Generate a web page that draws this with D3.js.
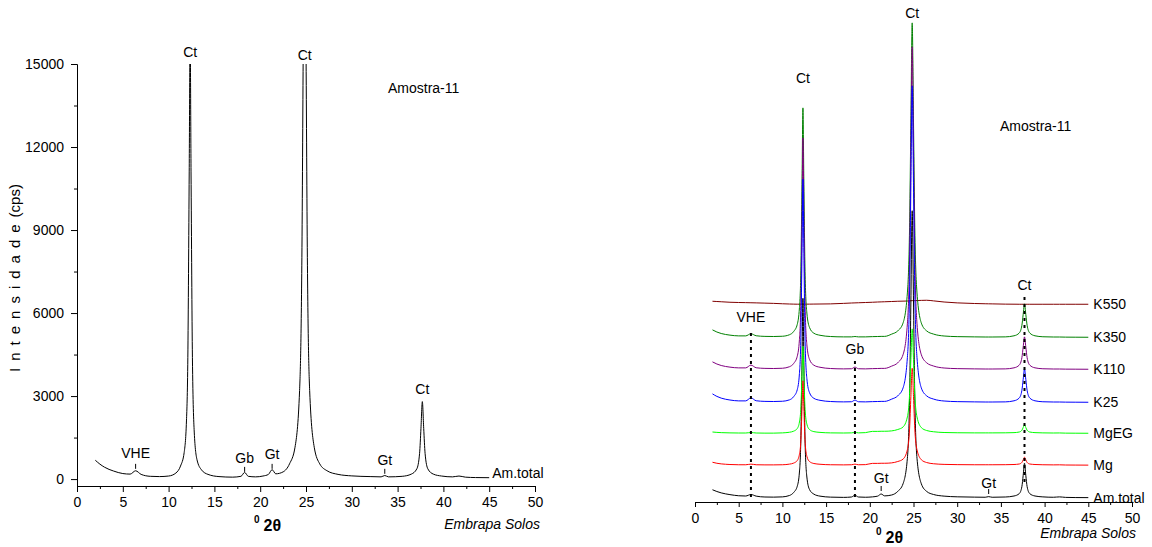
<!DOCTYPE html>
<html>
<head>
<meta charset="utf-8">
<script src="https://cdn.jsdelivr.net/npm/d3@7"></script>
<style>
  body { margin: 0; background: #fff; }
  svg text { font-family: "Liberation Sans", Arial, sans-serif; }
</style>
</head>
<body>
<svg id="chart" width="1152" height="547"></svg>
<script>
// 2-theta grid shared by every diffractogram (degrees)
var twoTheta = [2, 2.5, 3, 4, 5, 5.8, 6.4, 7, 8, 9, 10, 10.8, 11.3, 11.7, 11.95, 12.1, 12.25, 12.35, 12.45, 12.6,
  12.8, 13.1, 13.6, 14.3, 15.5, 17, 17.9, 18.3, 18.7, 19.5, 20.3, 20.9, 21.3, 21.7, 22.5, 23.2, 23.8, 24.3, 24.55, 24.7,
  24.85, 25.0, 25.15, 25.4, 25.9, 26.5, 27.3, 28.5, 30, 32, 33.2, 33.6, 34, 35.5, 36.5, 37.1, 37.4, 37.55, 37.7, 37.85,
  38.0, 38.3, 38.9, 39.8, 41, 41.7, 42.4, 43.5, 45];

// intensities (cps)
var amTotal = [680, 540, 430, 290, 200, 180, 300, 170, 100, 90, 110, 220, 470, 960, 2100, 4400, 11100, 16000, 11100, 4400,
  1700, 700, 330, 170, 90, 70, 100, 240, 100, 80, 110, 170, 340, 190, 260, 550, 1150, 3200, 8000, 15700,
  23000, 15700, 8000, 3200, 1150, 550, 300, 170, 115, 90, 80, 130, 80, 100, 180, 370, 930, 1830, 2800, 1830,
  930, 370, 180, 110, 80, 110, 70, 55, 50];

var mg = [280, 200, 150, 100, 80, 80, 130, 80, 70, 70, 80, 130, 216, 420, 920, 1880, 4720, 6800, 4720, 1880,
  760, 340, 180, 120, 80, 70, 80, 130, 80, 90, 190, 190, 200, 200, 230, 340, 530, 1280, 2930, 5540,
  7800, 5540, 2930, 1280, 480, 257, 160, 110, 90, 80, 80, 80, 80, 85, 100, 140, 265, 465, 680, 465,
  265, 140, 100, 80, 70, 75, 60, 55, 50];

var mgEG = [150, 120, 100, 80, 70, 70, 110, 70, 60, 60, 80, 130, 220, 430, 950, 1930, 4860, 7000, 4860, 1930,
  780, 350, 180, 120, 80, 70, 80, 120, 80, 100, 200, 200, 210, 210, 240, 350, 550, 1360, 3140, 5950,
  8400, 5950, 3140, 1360, 500, 270, 170, 110, 90, 80, 80, 80, 80, 85, 100, 150, 290, 510, 760, 510,
  290, 150, 100, 80, 70, 75, 60, 55, 50];

var k25 = [720, 520, 380, 230, 160, 160, 400, 170, 120, 110, 130, 240, 508, 1054, 2360, 4885, 12430, 17900, 12430, 4885,
  1940, 820, 366, 205, 110, 80, 90, 220, 90, 80, 100, 110, 120, 120, 300, 565, 1185, 3620, 8870, 17370,
  25360, 17370, 8870, 3620, 1185, 565, 303, 150, 100, 80, 70, 70, 70, 80, 166, 393, 1003, 1880, 2720, 1880,
  1003, 393, 166, 90, 70, 70, 60, 55, 50];

var k110 = [640, 470, 350, 220, 160, 160, 380, 170, 120, 110, 130, 250, 521, 1087, 2440, 5060, 12890, 18560, 12890, 5060,
  2006, 844, 375, 209, 110, 80, 90, 220, 90, 80, 100, 110, 120, 120, 300, 571, 1206, 3684, 9035, 17700,
  25840, 17700, 9035, 3684, 1206, 571, 307, 150, 100, 80, 70, 70, 70, 80, 163, 383, 975, 1827, 2640, 1827,
  975, 383, 163, 90, 70, 70, 60, 55, 50];

var k350 = [640, 470, 350, 220, 160, 160, 330, 170, 120, 110, 130, 250, 518, 1079, 2422, 5018, 12780, 18400, 12780, 5018,
  1990, 838, 373, 208, 110, 80, 80, 110, 80, 80, 100, 110, 120, 120, 300, 560, 1179, 3596, 8810, 17260,
  25200, 17260, 8810, 3596, 1179, 560, 302, 150, 100, 80, 70, 70, 70, 80, 166, 393, 1003, 1880, 2720, 1880,
  1003, 393, 166, 90, 70, 70, 60, 55, 50];

var k550 = [290, 270, 250, 210, 190, 180, 170, 160, 140, 120, 90, 70, 60, 55, 55, 55, 55, 55, 55, 55,
  60, 60, 65, 70, 80, 120, 150, 160, 170, 190, 210, 230, 240, 250, 270, 290, 300, 310, 320, 330,
  340, 340, 340, 350, 360, 370, 320, 230, 160, 110, 90, 85, 80, 60, 55, 50, 50, 50, 55, 50,
  50, 50, 50, 50, 50, 50, 50, 50, 50];

// stacked chart: names in drawing order, vertical offsets in cps
var stackNames = ["K550", "K350", "K110", "K25", "Am.total", "MgEG", "Mg"];
var stackOffsets = [15470, 12830, 10270, 7630, 0, 5150, 2600];
var stackValues = [k550, k350, k110, k25, amTotal, mgEG, mg];

var xTicks = [0, 5, 10, 15, 20, 25, 30, 35, 40, 45, 50];
var xMinor = [2.5, 7.5, 12.5, 17.5, 22.5, 27.5, 32.5, 37.5, 42.5, 47.5];
var yTicks = [0, 3000, 6000, 9000, 12000, 15000];
var yMinor = [1500, 4500, 7500, 10500, 13500];

// peak markers, positions in data units (2theta, cps)
var leftPeaks = [
  { t: "Ct", x: 12.35, y: 15250 },
  { t: "Ct", x: 24.85, y: 15150 },
  { t: "Ct", x: 37.7, y: 3070 },
  { t: "VHE", x: 6.4, y: 760, tick: [370, 550] },
  { t: "Gb", x: 18.3, y: 580, tick: [260, 440] },
  { t: "Gt", x: 21.3, y: 730, tick: [370, 550] },
  { t: "Gt", x: 33.6, y: 510, tick: [190, 370] }
];
var rightPeaks = [
  { t: "Ct", x: 12.35, y: 33220 },
  { t: "Ct", x: 24.85, y: 38420 },
  { t: "Ct", x: 37.7, y: 16660, dash: [1300, 16420] },
  { t: "VHE", x: 6.4, y: 14100, dash: [100, 13460] },
  { t: "Gb", x: 18.3, y: 11540, dash: [100, 11140] },
  { t: "Gt", x: 21.3, y: 1220, tick: [580, 980] },
  { t: "Gt", x: 33.6, y: 820, tick: [340, 740] }
];

var colors = { "K550": "#800000", "K350": "#008000", "K110": "#800080", "K25": "#0000ff",
  "MgEG": "#00ff00", "Mg": "#ff0000", "Am.total": "#000000" };

var svg = d3.select("#chart");
var font = "'Liberation Sans', Arial, sans-serif";

function pts(vals, off) {
  return twoTheta.map(function(t, i) { return [t, vals[i] + off]; });
}

// ---------- left chart ----------
var xL = d3.scaleLinear().domain([0, 50]).range([77, 535]);
var yL = d3.scaleLinear().domain([-250, 15000]).range([486, 64]);

svg.append("clipPath").attr("id", "clipL")
  .append("rect").attr("x", 0).attr("y", yL(15000)).attr("width", 560).attr("height", 480);

var lineL = d3.line().curve(d3.curveMonotoneX)
  .x(function(d) { return xL(d[0]); })
  .y(function(d) { return yL(d[1]); });

svg.append("path")
  .attr("clip-path", "url(#clipL)")
  .attr("d", lineL(pts(amTotal, 0)))
  .attr("fill", "none").attr("stroke", "#000").attr("stroke-width", 1);

svg.append("g").attr("transform", "translate(0," + yL(-250) + ")")
  .call(d3.axisBottom(xL).tickValues(xTicks).tickSize(6).tickPadding(5).tickSizeOuter(0));
svg.append("g").attr("transform", "translate(0," + yL(-250) + ")")
  .call(d3.axisBottom(xL).tickValues(xMinor).tickSize(3).tickFormat("").tickSizeOuter(0));
svg.append("g").attr("transform", "translate(" + xL(0) + ",0)")
  .call(d3.axisLeft(yL).tickValues(yTicks).tickFormat(d3.format("d"))
    .tickSize(6).tickPadding(7).tickSizeOuter(0));
svg.append("g").attr("transform", "translate(" + xL(0) + ",0)")
  .call(d3.axisLeft(yL).tickValues(yMinor).tickSize(3).tickFormat("").tickSizeOuter(0));

leftPeaks.forEach(function(p) {
  svg.append("text").attr("x", xL(p.x)).attr("y", yL(p.y))
    .attr("text-anchor", "middle").attr("font-size", 14).text(p.t);
  if (p.tick) {
    svg.append("line").attr("x1", xL(p.x)).attr("x2", xL(p.x))
      .attr("y1", yL(p.tick[0])).attr("y2", yL(p.tick[1])).attr("stroke", "#000");
  }
});

svg.append("text").attr("x", xL(45) + 3).attr("y", yL(50))
  .attr("font-size", 14).text("Am.total");
svg.append("text").attr("x", 388).attr("y", 93).attr("font-size", 14).text("Amostra-11");

var yt = svg.append("text").attr("transform", "translate(20,278) rotate(-90)")
  .attr("text-anchor", "middle").attr("font-size", 15);
yt.append("tspan").attr("letter-spacing", "7px").text("Intensidade");
yt.append("tspan").text("(cps)");

var xt = svg.append("text").attr("x", 254).attr("y", 531);
xt.append("tspan").attr("font-size", 10).attr("font-weight", "bold").attr("dy", -8).text("0");
xt.append("tspan").attr("font-size", 16).attr("font-weight", "bold").attr("dx", 4).attr("dy", 8).text("2θ");
svg.append("text").attr("x", 540).attr("y", 529).attr("text-anchor", "end")
  .attr("font-size", 14).attr("font-style", "italic").text("Embrapa Solos");

// ---------- right chart ----------
var xR = d3.scaleLinear().domain([0, 50]).range([695, 1132]);
var yR = d3.scaleLinear().domain([-300, 40000]).range([502, -1.75]);

var lineR = d3.line().curve(d3.curveMonotoneX)
  .x(function(d) { return xR(d[0]); })
  .y(function(d) { return yR(d[1]); });

stackNames.forEach(function(name, i) {
  svg.append("path")
    .attr("d", lineR(pts(stackValues[i], stackOffsets[i])))
    .attr("fill", "none").attr("stroke", colors[name]).attr("stroke-width", 1);
  var last = stackValues[i][stackValues[i].length - 1] + stackOffsets[i];
  svg.append("text").attr("x", xR(45) + 5).attr("y", yR(last) + 5)
    .attr("font-size", 14).text(name);
});

svg.append("g").attr("transform", "translate(0," + yR(-300) + ")")
  .call(d3.axisBottom(xR).tickValues(xTicks).tickSize(5).tickPadding(6).tickSizeOuter(0));
svg.append("g").attr("transform", "translate(0," + yR(-300) + ")")
  .call(d3.axisBottom(xR).tickValues(xMinor).tickSize(3).tickFormat("").tickSizeOuter(0));

rightPeaks.forEach(function(p) {
  svg.append("text").attr("x", xR(p.x)).attr("y", yR(p.y))
    .attr("text-anchor", "middle").attr("font-size", 14).text(p.t);
  if (p.tick) {
    svg.append("line").attr("x1", xR(p.x)).attr("x2", xR(p.x))
      .attr("y1", yR(p.tick[0])).attr("y2", yR(p.tick[1])).attr("stroke", "#000");
  }
  if (p.dash) {
    svg.append("line").attr("x1", xR(p.x)).attr("x2", xR(p.x))
      .attr("y1", yR(p.dash[0])).attr("y2", yR(p.dash[1]))
      .attr("stroke", "#000").attr("stroke-width", 2).attr("stroke-dasharray", "3,4");
  }
});

svg.append("text").attr("x", 1000).attr("y", 131).attr("font-size", 14).text("Amostra-11");
var xt2 = svg.append("text").attr("x", 876).attr("y", 543);
xt2.append("tspan").attr("font-size", 10).attr("font-weight", "bold").attr("dy", -8).text("0");
xt2.append("tspan").attr("font-size", 16).attr("font-weight", "bold").attr("dx", 4).attr("dy", 8).text("2θ");
svg.append("text").attr("x", 1136).attr("y", 538).attr("text-anchor", "end")
  .attr("font-size", 14).attr("font-style", "italic").text("Embrapa Solos");

svg.selectAll(".tick text").attr("font-size", 14).attr("font-family", font).attr("fill", "#000");
svg.selectAll(".domain, .tick line").attr("stroke", "#000");
</script>
</body>
</html>
